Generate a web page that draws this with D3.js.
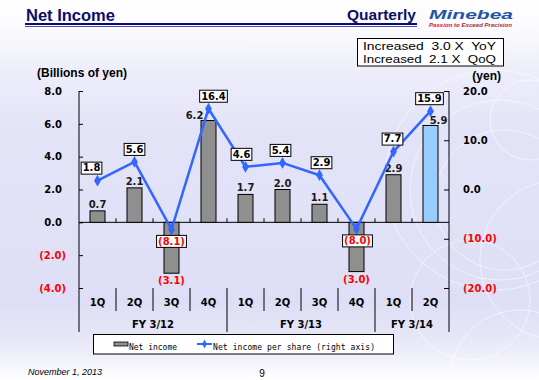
<!DOCTYPE html>
<html>
<head>
<meta charset="utf-8">
<script src="https://cdnjs.cloudflare.com/ajax/libs/d3/7.8.5/d3.min.js"></script>
<style>
  html, body { margin: 0; padding: 0; background: #ffffff; }
  svg { display: block; }
</style>
</head>
<body>
<div id="chart"></div>
<script>
// ---------------- data ----------------
const quarters = ["1Q", "2Q", "3Q", "4Q", "1Q", "2Q", "3Q", "4Q", "1Q", "2Q"];
const fiscalYears = ["FY 3/12", "FY 3/13", "FY 3/14"];
const fiscalYearSizes = [4, 4, 2];
const netIncome = [0.7, 2.1, -3.1, 6.2, 1.7, 2.0, 1.1, -3.0, 2.9, 5.9];
const epsValues = [1.8, 5.6, -8.1, 16.4, 4.6, 5.4, 2.9, -8.0, 7.7, 15.9];
const leftTicks = [-4, -2, 0, 2, 4, 6, 8];
const rightTicks = [-20, -10, 0, 10, 20];
const summaryLines = ["Increased  3.0 X  YoY", "Increased  2.1 X  QoQ"];

// ---------------- layout ----------------
const W = 539, H = 380;
const plotL = 79, plotR = 449, plotT = 91, plotB = 288;
const barLabelDx = [0, 0, 0, -14, 0, 0, 0, 0, 0, 8];
const epsLabelDx = [-6, 0, 0, 5, -4, -2, 2, 1, -1, -1];

const fmt = v => v < 0 ? "(" + Math.abs(v).toFixed(1) + ")" : v.toFixed(1);

const svg = d3.select("#chart").append("svg")
  .attr("width", W).attr("height", H);

// background
const defs = svg.append("defs");
const bg = defs.append("linearGradient").attr("id", "bg")
  .attr("x1", 0).attr("y1", 0).attr("x2", 0).attr("y2", 1);
[[0, "#ffffff"], [0.07, "#fbfbfe"], [0.2, "#ececfa"], [0.35, "#e3e3f8"],
 [0.8, "#dedef6"], [0.9, "#e8e8f8"], [0.97, "#f7f7fd"], [1, "#ffffff"]]
  .forEach(([o, c]) => bg.append("stop").attr("offset", o).attr("stop-color", c));
svg.append("rect").attr("width", W).attr("height", H).attr("fill", "url(#bg)");

// decorative rings
const rings = svg.append("g").attr("fill", "none").attr("stroke", "#ffffff").attr("stroke-opacity", 0.55);
[[500, 190, 90], [505, 200, 70], [495, 180, 110], [470, 300, 60], [530, 120, 40], [520, 380, 70], [560, 260, 80]]
  .forEach(([cx, cy, r]) => rings.append("circle").attr("cx", cx).attr("cy", cy).attr("r", r).attr("stroke-width", 1));

// header
svg.append("text").attr("x", 26).attr("y", 21)
  .attr("font-family", "Liberation Sans, Arial, sans-serif").attr("font-weight", "bold")
  .attr("font-size", 16.5).attr("fill", "#0d0d66").text("Net Income");
svg.append("text").attr("x", 347).attr("y", 20)
  .attr("font-family", "Liberation Sans, Arial, sans-serif").attr("font-weight", "bold")
  .attr("font-size", 15.5).attr("fill", "#0d0d66").text("Quarterly");
svg.append("line").attr("x1", 25).attr("x2", 417).attr("y1", 24).attr("y2", 24)
  .attr("stroke", "#0a0a80").attr("stroke-width", 2);
svg.append("line").attr("x1", 25).attr("x2", 417).attr("y1", 26.5).attr("y2", 26.5)
  .attr("stroke", "#5050b0").attr("stroke-width", 1);
svg.append("text").attr("x", 429).attr("y", 19)
  .attr("font-family", "Liberation Sans, Arial, sans-serif").attr("font-weight", "bold")
  .attr("font-style", "italic").attr("font-size", 12.5).attr("fill", "#2354a8")
  .attr("textLength", 84).attr("lengthAdjust", "spacingAndGlyphs").text("Minebea");
const tag = svg.append("text").attr("x", 429).attr("y", 26.5)
  .attr("font-family", "Liberation Sans, Arial, sans-serif").attr("font-weight", "bold")
  .attr("font-style", "italic").attr("font-size", 5.6)
  .attr("textLength", 83).attr("lengthAdjust", "spacingAndGlyphs");
tag.append("tspan").attr("fill", "#e0151b").text("Passion ");
tag.append("tspan").attr("fill", "#b02a3a").text("to Exceed Precision");

// summary box
svg.append("rect").attr("x", 357.5).attr("y", 38.5).attr("width", 146).attr("height", 27.5)
  .attr("fill", "#ffffff").attr("stroke", "#000").attr("stroke-width", 1);
summaryLines.forEach((s, i) => {
  svg.append("text").attr("x", 363).attr("y", 50 + i * 13)
    .attr("font-family", "Liberation Sans, Arial, sans-serif").attr("font-size", 11.8)
    .attr("fill", "#000").attr("textLength", 133).attr("lengthAdjust", "spacingAndGlyphs")
    .attr("xml:space", "preserve").style("white-space", "pre").text(s);
});

// units
svg.append("text").attr("x", 37).attr("y", 77)
  .attr("font-family", "Liberation Sans, Arial, sans-serif").attr("font-weight", "bold")
  .attr("font-size", 12).attr("fill", "#000").text("(Billions of yen)");
svg.append("text").attr("x", 501).attr("y", 80).attr("text-anchor", "end")
  .attr("font-family", "Liberation Sans, Arial, sans-serif").attr("font-weight", "bold")
  .attr("font-size", 12).attr("fill", "#000").text("(yen)");

// scales
const x = d3.scaleBand().domain(d3.range(quarters.length)).range([plotL, plotR]).paddingInner(0).paddingOuter(0);
const yL = d3.scaleLinear().domain([-4, 8]).range([plotB, plotT]);
const yR = d3.scaleLinear().domain([-20, 20]).range([plotB, plotT]);
const barW = 15;

const tickFont = "DejaVu Sans, Verdana, sans-serif";

// left axis
const axL = svg.append("g").attr("transform", `translate(${plotL},0)`)
  .call(d3.axisLeft(yL).tickValues(leftTicks).tickSize(-4).tickFormat(fmt));
axL.select(".domain").remove();
axL.selectAll(".tick line").attr("stroke", "#000");
axL.selectAll(".tick text")
  .attr("x", d => d < 0 ? -13 : -17)
  .attr("font-family", tickFont).attr("font-weight", "bold").attr("font-size", 10)
  .attr("fill", d => d < 0 ? "#ff0000" : "#000");
svg.append("line").attr("x1", plotL).attr("x2", plotL).attr("y1", plotT).attr("y2", 332)
  .attr("stroke", "#000");

// right axis
const axR = svg.append("g").attr("transform", `translate(${plotR},0)`)
  .call(d3.axisRight(yR).tickValues(rightTicks).tickSize(-5).tickFormat(fmt));
axR.select(".domain").remove();
axR.selectAll(".tick line").attr("stroke", "#000");
axR.selectAll(".tick text")
  .attr("x", 14)
  .attr("font-family", tickFont).attr("font-weight", "bold").attr("font-size", 10)
  .attr("fill", d => d < 0 ? "#ff0000" : "#000");
svg.append("line").attr("x1", plotR).attr("x2", plotR).attr("y1", plotT).attr("y2", 332)
  .attr("stroke", "#000");

// zero line with category ticks
svg.append("line").attr("x1", plotL).attr("x2", plotR).attr("y1", yL(0)).attr("y2", yL(0))
  .attr("stroke", "#000");
d3.range(1, quarters.length).forEach(i => {
  svg.append("line").attr("x1", x(i)).attr("x2", x(i)).attr("y1", yL(0) - 4).attr("y2", yL(0))
    .attr("stroke", "#000");
});

// bars
svg.append("g").selectAll("rect").data(netIncome).join("rect")
  .attr("x", (d, i) => x(i) + (x.bandwidth() - barW) / 2)
  .attr("y", d => yL(Math.max(0, d)))
  .attr("width", barW)
  .attr("height", d => Math.abs(yL(d) - yL(0)))
  .attr("fill", (d, i) => i === netIncome.length - 1 ? "#99ccff" : "#8f8f8f")
  .attr("stroke", "#000").attr("stroke-width", 1);

// bar labels
svg.append("g").selectAll("text").data(netIncome).join("text")
  .attr("x", (d, i) => x(i) + x.bandwidth() / 2 + barLabelDx[i])
  .attr("y", (d, i) => d >= 0 ? yL(d) - (barLabelDx[i] !== 0 ? 1.5 : 3) : yL(d) + 11)
  .attr("text-anchor", "middle")
  .attr("font-family", tickFont).attr("font-weight", "bold").attr("font-size", 10)
  .attr("fill", d => d < 0 ? "#ff0000" : "#1a1a1a")
  .text(fmt);

// EPS line
const line = d3.line().x((d, i) => x(i) + x.bandwidth() / 2).y(d => yR(d));
svg.append("path").datum(epsValues).attr("d", line)
  .attr("fill", "none").attr("stroke", "#3366ff").attr("stroke-width", 2.5)
  .attr("stroke-linejoin", "round");
svg.append("g").selectAll("path").data(epsValues).join("path")
  .attr("d", d3.symbol(d3.symbolDiamond, 40))
  .attr("transform", (d, i) => `translate(${x(i) + x.bandwidth() / 2},${yR(d)})`)
  .attr("fill", "#3366ff");

// EPS labels
const epsG = svg.append("g");
epsValues.forEach((d, i) => {
  const cx = x(i) + x.bandwidth() / 2 + epsLabelDx[i];
  const cy = d >= 0 ? yR(d) - 13 : yR(d) + 11.5;
  const t = epsG.append("text").attr("x", cx).attr("y", cy + 3.8)
    .attr("text-anchor", "middle")
    .attr("font-family", tickFont).attr("font-weight", "bold").attr("font-size", 10)
    .attr("fill", d < 0 ? "#ff0000" : "#000").text(fmt(d));
  const w = t.node().getComputedTextLength() + 3;
  epsG.insert("rect", "text").attr("x", cx - w / 2).attr("y", cy - 5.5)
    .attr("width", w).attr("height", 12)
    .attr("fill", "#fff").attr("stroke", "#000").attr("stroke-width", 1);
});

// category axis (two levels)
const catG = svg.append("g");
quarters.forEach((q, i) => {
  catG.append("text").attr("x", x(i) + x.bandwidth() / 2).attr("y", 305.5)
    .attr("text-anchor", "middle")
    .attr("font-family", tickFont).attr("font-weight", "bold").attr("font-size", 10)
    .attr("fill", "#000").text(q);
});
let startIdx = 0;
const groupBounds = [0];
fiscalYears.forEach((fy, g) => {
  const endIdx = startIdx + fiscalYearSizes[g];
  const x0 = x(startIdx), x1 = endIdx < quarters.length ? x(endIdx) : plotR;
  catG.append("text").attr("x", (x0 + x1) / 2).attr("y", 328)
    .attr("text-anchor", "middle")
    .attr("font-family", tickFont).attr("font-weight", "bold").attr("font-size", 10)
    .attr("fill", "#000").text(fy);
  groupBounds.push(endIdx);
  startIdx = endIdx;
});
d3.range(1, quarters.length).forEach(i => {
  const isGroup = groupBounds.includes(i);
  catG.append("line").attr("x1", x(i)).attr("x2", x(i))
    .attr("y1", plotB).attr("y2", isGroup ? 332 : 311).attr("stroke", "#000");
});

// legend
const lg = svg.append("g");
lg.append("rect").attr("x", 93.5).attr("y", 334.5).attr("width", 300).attr("height", 19.5)
  .attr("fill", "#fff").attr("stroke", "#000");
lg.append("rect").attr("x", 114).attr("y", 342).attr("width", 14).attr("height", 4)
  .attr("fill", "#8f8f8f").attr("stroke", "#000").attr("stroke-width", 0.8);
lg.append("text").attr("x", 129).attr("y", 350)
  .attr("font-family", "DejaVu Sans Mono, monospace").attr("font-size", 8)
  .attr("fill", "#000").attr("textLength", 48).text("Net income");
lg.append("line").attr("x1", 197).attr("x2", 212).attr("y1", 344).attr("y2", 344)
  .attr("stroke", "#3366ff").attr("stroke-width", 2);
lg.append("path").attr("d", d3.symbol(d3.symbolDiamond, 22))
  .attr("transform", "translate(204.5,344)").attr("fill", "#3366ff");
lg.append("text").attr("x", 213).attr("y", 350)
  .attr("font-family", "DejaVu Sans Mono, monospace").attr("font-size", 8)
  .attr("fill", "#000").attr("textLength", 162).text("Net income per share (right axis)");

// footer
svg.append("text").attr("x", 28).attr("y", 375)
  .attr("font-family", "Liberation Sans, Arial, sans-serif").attr("font-style", "italic")
  .attr("font-size", 9).attr("fill", "#000").text("November 1, 2013");
svg.append("text").attr("x", 262).attr("y", 377).attr("text-anchor", "middle")
  .attr("font-family", "Liberation Sans, Arial, sans-serif")
  .attr("font-size", 10).attr("fill", "#000").text("9");
</script>
</body>
</html>
